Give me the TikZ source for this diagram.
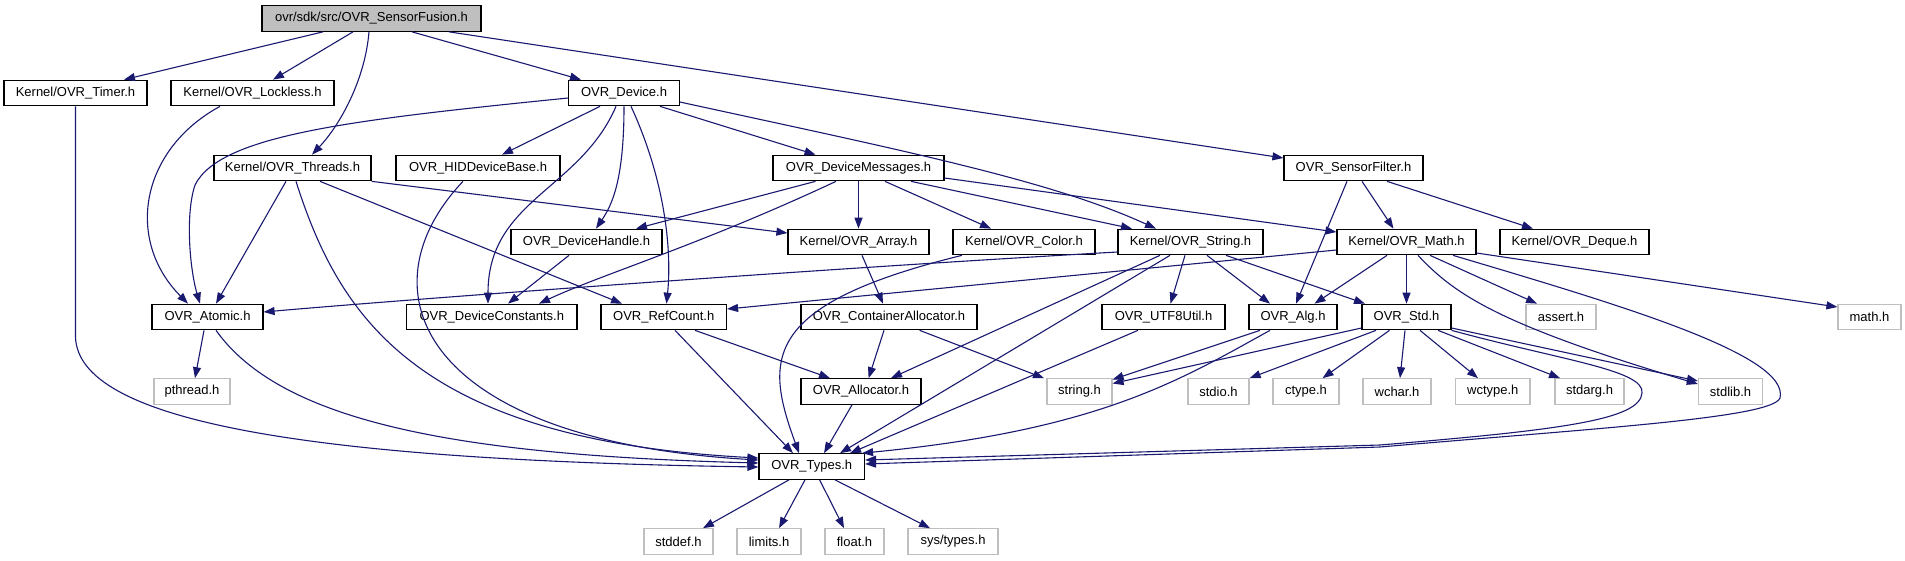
\documentclass[tikz,border=0pt]{standalone}
\usepackage{fontspec}
\setmainfont{Liberation Sans}
\usetikzlibrary{arrows.meta}
\definecolor{edgecol}{RGB}{25,25,112}
\definecolor{sysgrey}{RGB}{191,191,191}
\begin{document}
\begin{tikzpicture}[x=1pt,y=-1pt,
  box/.style={draw=black, fill=white, line width=1.2pt, minimum height=25.5pt, inner sep=0pt, font=\fontsize{13pt}{15pt}\selectfont},
  sysbox/.style={box, draw=sysgrey},
  rootbox/.style={box, fill=sysgrey},
  edge/.style={draw=edgecol, line width=1.1pt, -{Triangle[length=11pt,width=8pt]}}]
\useasboundingbox (0,0) rectangle (1905,560);
% row 0
\node[rootbox, minimum width=219pt] (root) at (371.5,18.5) {ovr/sdk/src/OVR\_SensorFusion.h};
% row 1
\node[box, minimum width=143pt] (timer) at (75.5,93) {Kernel/OVR\_Timer.h};
\node[box, minimum width=163pt] (lockless) at (252.5,93) {Kernel/OVR\_Lockless.h};
\node[box, minimum width=110.5pt] (device) at (624,93) {OVR\_Device.h};
% row 2
\node[box, minimum width=157pt] (threads) at (292.5,168) {Kernel/OVR\_Threads.h};
\node[box, minimum width=164pt] (hid) at (478,168) {OVR\_HIDDeviceBase.h};
\node[box, minimum width=171pt] (devmsg) at (858.5,168) {OVR\_DeviceMessages.h};
\node[box, minimum width=139pt] (sfilter) at (1353.5,168) {OVR\_SensorFilter.h};
% row 3
\node[box, minimum width=151pt] (dhandle) at (586.5,242) {OVR\_DeviceHandle.h};
\node[box, minimum width=141pt] (array) at (858.5,242) {Kernel/OVR\_Array.h};
\node[box, minimum width=142pt] (color) at (1024,242) {Kernel/OVR\_Color.h};
\node[box, minimum width=145pt] (string) at (1190.5,242) {Kernel/OVR\_String.h};
\node[box, minimum width=139pt] (math) at (1406.5,242) {Kernel/OVR\_Math.h};
\node[box, minimum width=149pt] (deque) at (1574.5,242) {Kernel/OVR\_Deque.h};
% row 4
\node[box, minimum width=111pt] (atomic) at (207.5,317) {OVR\_Atomic.h};
\node[box, minimum width=170.5pt] (dconst) at (491.75,317) {OVR\_DeviceConstants.h};
\node[box, minimum width=125.5pt] (refcount) at (663.75,317) {OVR\_RefCount.h};
\node[box, minimum width=176pt] (contalloc) at (889,317) {OVR\_ContainerAllocator.h};
\node[box, minimum width=123pt] (utf8) at (1163.5,317) {OVR\_UTF8Util.h};
\node[box, minimum width=88pt] (alg) at (1293,317) {OVR\_Alg.h};
\node[box, minimum width=89pt] (std) at (1406.5,317) {OVR\_Std.h};
\node[sysbox, minimum width=70pt] (assert) at (1561,317) {assert.h};
\node[sysbox, minimum width=63pt] (mathh) at (1869.5,317) {math.h};
% row 5
\node[sysbox, minimum width=76pt] (pthread) at (192,391.5) {pthread.h};
\node[box, minimum width=120pt] (allocator) at (861,391.5) {OVR\_Allocator.h};
\node[sysbox, minimum width=65pt] (stringh) at (1079.5,391.5) {string.h};
\node[sysbox, minimum width=61pt] (stdio) at (1218.5,391.5) {stdio.h};
\node[sysbox, minimum width=66pt] (ctype) at (1306,391.5) {ctype.h};
\node[sysbox, minimum width=68pt] (wchar) at (1397,391.5) {wchar.h};
\node[sysbox, minimum width=74.5pt] (wctype) at (1492.75,391.5) {wctype.h};
\node[sysbox, minimum width=69pt] (stdarg) at (1589.5,391.5) {stdarg.h};
\node[sysbox, minimum width=64pt] (stdlib) at (1730.5,391.5) {stdlib.h};
% row 6
\node[box, minimum width=105.5pt] (types) at (811.75,466.5) {OVR\_Types.h};
% row 7
\node[sysbox, minimum width=69pt] (stddef) at (678.5,541.5) {stddef.h};
\node[sysbox, minimum width=64pt] (limits) at (769,541.5) {limits.h};
\node[sysbox, minimum width=59pt] (float) at (854.5,541.5) {float.h};
\node[sysbox, minimum width=90pt] (systypes) at (953,541.5) {sys/types.h};

% edges from root
\draw[edge] ([xshift=-48.5pt]root.south) -- ([xshift=48.5pt]timer.north);
\draw[edge] ([xshift=-18.5pt]root.south) -- ([xshift=20.5pt]lockless.north);
\draw[edge] ([xshift=-2.5pt]root.south) .. controls (365,80) and (340,125) .. ([xshift=19.5pt]threads.north);
\draw[edge] ([xshift=40.5pt]root.south) -- ([xshift=-43pt]device.north);
\draw[edge] ([xshift=77.5pt]root.south) -- ([yshift=10pt]sfilter.west);
% timer, lockless
\draw[edge] (timer.south) -- (75.5,337) .. controls (78,420) and (300,460) .. ([yshift=-0.5pt]types.west);
\draw[edge] ([xshift=-32.5pt]lockless.south) .. controls (140,150) and (125,240) .. ([xshift=-19.5pt]atomic.north);
% device
\draw[edge] ([yshift=-5pt]device.west) .. controls (350,120) and (220,135) .. (195,185) .. controls (185,215) and (190,270) .. ([xshift=-7.5pt]atomic.north);
\draw[edge] ([xshift=-24pt]device.south) -- ([xshift=24pt]hid.north);
\draw[edge] (device.south) .. controls (624,180) and (612,205) .. ([xshift=9.5pt]dhandle.north);
\draw[edge] ([xshift=-8pt]device.south) .. controls (580,190) and (488,200) .. ([xshift=-3.75pt]dconst.north);
\draw[edge] ([xshift=7pt]device.south) .. controls (665,180) and (672,250) .. ([xshift=2.75pt]refcount.north);
\draw[edge] ([xshift=36pt]device.south) -- ([xshift=-43pt]devmsg.north);
\draw[edge] ([yshift=-9pt]device.east) .. controls (900,150) and (1050,180) .. ([xshift=-34.5pt]string.north);
% threads
\draw[edge] ([xshift=-6.5pt]threads.south) -- ([xshift=8.5pt]atomic.north);
\draw[edge] ([xshift=3.5pt]threads.south) .. controls (340,320) and (420,440) .. ([yshift=8.5pt]types.west);
\draw[edge] ([xshift=27.5pt]threads.south) -- ([xshift=-41.75pt]refcount.north);
\draw[edge] (threads.south east) -- ([yshift=9pt]array.west);
% hid
\draw[edge] ([xshift=-15pt]hid.south) .. controls (360,290) and (420,440) .. ([yshift=6.5pt]types.west);
% device messages
\draw[edge] ([xshift=-43pt]devmsg.south) -- ([xshift=49.5pt]dhandle.north);
\draw[edge] ([xshift=-22.5pt]devmsg.south) .. controls (700,245) and (600,275) .. ([xshift=47.25pt]dconst.north);
\draw[edge] (devmsg.south) -- (array.north);
\draw[edge] ([xshift=26.5pt]devmsg.south) -- ([xshift=-33pt]color.north);
\draw[edge] ([xshift=52.5pt]devmsg.south) -- ([xshift=-58.5pt]string.north);
\draw[edge] ([yshift=-10pt]devmsg.east) -- ([yshift=10pt]math.west);
% sensor filter
\draw[edge] ([xshift=-6.5pt]sfilter.south) -- ([xshift=3pt]alg.north);
\draw[edge] ([xshift=8.5pt]sfilter.south) -- ([xshift=-13pt]math.north);
\draw[edge] ([xshift=33.5pt]sfilter.south) -- ([xshift=-41.5pt]deque.north);
% row 3 sources
\draw[edge] ([xshift=-17.5pt]dhandle.south) -- ([xshift=16.25pt]dconst.north);
\draw[edge] ([xshift=3.5pt]array.south) -- ([xshift=-6pt]contalloc.north);
\draw[edge] ([xshift=-62pt]color.south) .. controls (760,305) and (765,360) .. ([xshift=-12.75pt]types.north);
\draw[edge] ([yshift=-10pt]string.west) .. controls (800,270) and (400,300) .. ([yshift=5pt]atomic.east);
\draw[edge] ([xshift=-30.5pt]string.south) -- ([xshift=30pt]allocator.north);
\draw[edge] ([xshift=-20.5pt]string.south) -- ([xshift=28.25pt]types.north);
\draw[edge] ([xshift=-5.5pt]string.south) -- ([xshift=7pt]utf8.north);
\draw[edge] ([xshift=16.5pt]string.south) -- ([xshift=-23pt]alg.north);
\draw[edge] ([xshift=35.5pt]string.south) -- ([xshift=-41.5pt]std.north);
\draw[edge] ([yshift=-8pt]math.west) -- ([yshift=8pt]refcount.east);
\draw[edge] ([xshift=-19.5pt]math.south) -- ([xshift=21.5pt]alg.north);
\draw[edge] (math.south) -- (std.north);
\draw[edge] ([xshift=11.5pt]math.south) .. controls (1455,295) and (1500,325) .. ([yshift=7.5pt]stdlib.west);
\draw[edge] ([xshift=23.5pt]math.south) -- ([xshift=-24pt]assert.north);
\draw[edge] ([xshift=46.5pt]math.south) .. controls (1620,305) and (1790,355) .. (1780,398) .. controls (1772,418) and (1600,428) .. (1380,447) -- ([yshift=2.5pt]types.east);
\draw[edge] ([yshift=-11pt]math.east) -- ([yshift=10pt]mathh.west);
% row 4 sources
\draw[edge] ([xshift=-3.5pt]atomic.south) -- ([xshift=3pt]pthread.north);
\draw[edge] ([xshift=8.5pt]atomic.south) .. controls (280,420) and (450,455) .. ([yshift=3.5pt]types.west);
\draw[edge] ([xshift=31.25pt]refcount.south) -- ([xshift=-31pt]allocator.north);
\draw[edge] ([xshift=11.25pt]refcount.south) -- ([xshift=-18.75pt]types.north);
\draw[edge] ([xshift=-5pt]contalloc.south) -- ([xshift=7.6pt]allocator.north);
\draw[edge] ([xshift=30.6pt]contalloc.south) -- ([xshift=-35.5pt]stringh.north);
\draw[edge] ([xshift=-25.5pt]utf8.south) -- ([xshift=38.25pt]types.north);
\draw[edge] ([xshift=-33pt]alg.south) -- ([yshift=12pt]stringh.east);
\draw[edge] ([xshift=-23pt]alg.south) .. controls (1180,380) and (1100,430) .. ([xshift=-3pt]types.north east);
\draw[edge] ([yshift=-11pt]std.west) -- ([yshift=8pt]stringh.east);
\draw[edge] ([xshift=-30.5pt]std.south) -- (stdio.north east);
\draw[edge] ([xshift=-17pt]std.south) -- ([xshift=16.6pt]ctype.north);
\draw[edge] ([xshift=-1.5pt]std.south) -- ([xshift=3pt]wchar.north);
\draw[edge] ([xshift=13.5pt]std.south) -- ([xshift=-14.75pt]wctype.north);
\draw[edge] ([xshift=31.5pt]std.south) -- ([xshift=-29.5pt]stdarg.north);
\draw[edge] ([yshift=-11pt]std.east) -- ([yshift=10.5pt]stdlib.west);
\draw[edge] (std.south east) .. controls (1560,360) and (1645,370) .. (1642,393) .. controls (1640,420) and (1560,430) .. (1380,445) -- ([yshift=6.5pt]types.east);
% row 5
\draw[edge] ([xshift=-9pt]allocator.south) -- ([xshift=12.25pt]types.north);
% types
\draw[edge] ([xshift=-22.75pt]types.south) -- ([xshift=24.5pt]stddef.north);
\draw[edge] ([xshift=-6.75pt]types.south) -- ([xshift=10pt]limits.north);
\draw[edge] ([xshift=7.85pt]types.south) -- ([xshift=-10.5pt]float.north);
\draw[edge] ([xshift=23.25pt]types.south) -- ([xshift=-23pt]systypes.north);
\end{tikzpicture}
\end{document}
